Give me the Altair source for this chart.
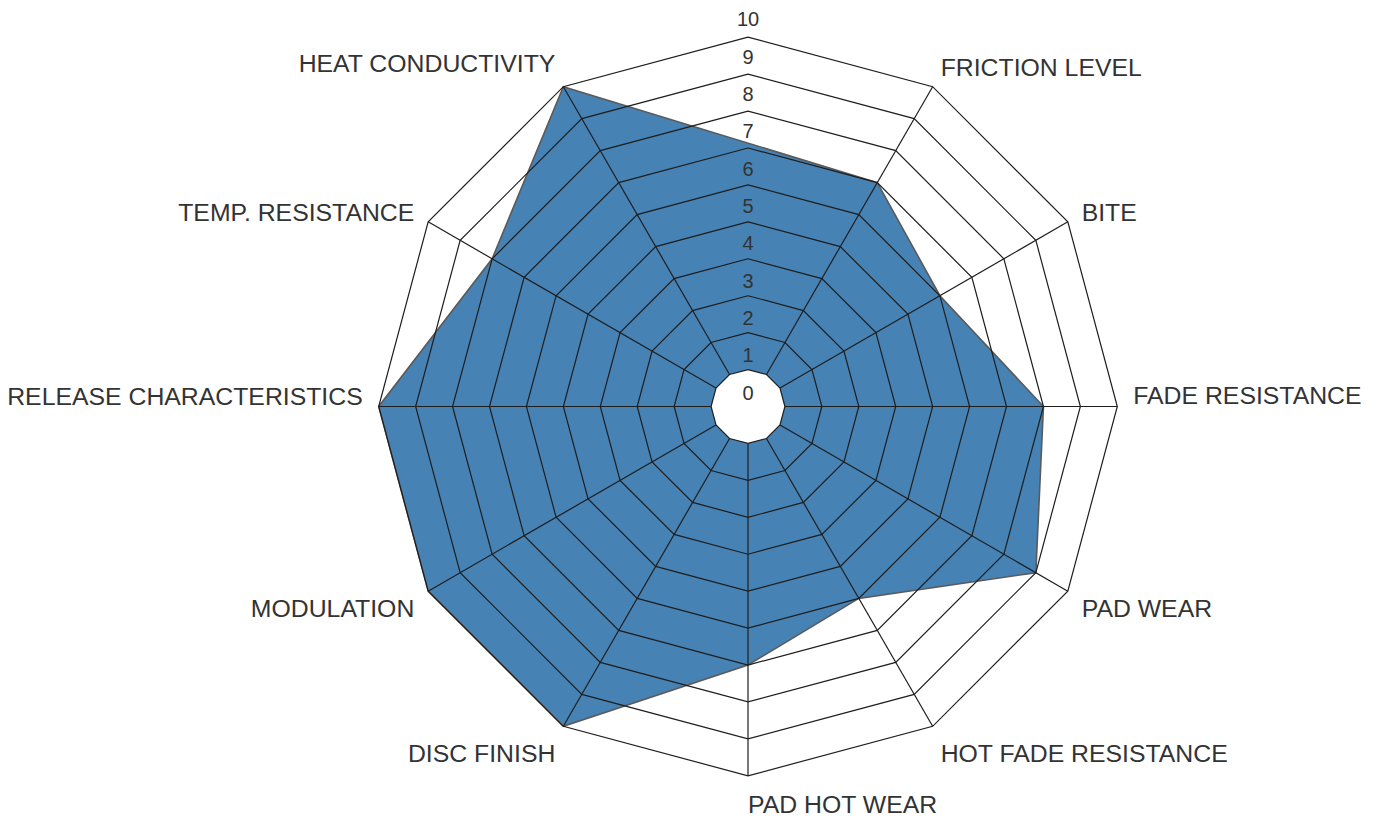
import math
import altair as alt

# ---- data ----
categories = [
    "FRICTION LEVEL", "BITE", "FADE RESISTANCE", "PAD WEAR",
    "HOT FADE RESISTANCE", "PAD HOT WEAR", "DISC FINISH", "MODULATION",
    "RELEASE CHARACTERISTICS", "TEMP. RESISTANCE", "HEAT CONDUCTIVITY",
]
values = [7, 6, 8, 9, 6, 7, 10, 10, 10, 8, 10]
scale_ticks = list(range(0, 11))

# ---- layout constants ----
N_SLOTS = 12            # 12-sided grid, top slot carries the scale labels only
SLOTS = list(range(1, 12))
W, H = 1360, 806
CX, CY = 740, 398.5
UNIT = 36.93
MAXV = 10
LABEL_R = MAXV + 16 / UNIT
FONT = "Liberation Sans"
TXT = "#333333"
GRID = "#1e1e1e"
# small vertical nudges of category labels, in pixels (positive = down)
NUDGE = {
    "FRICTION LEVEL": 3, "FADE RESISTANCE": -3, "HEAT CONDUCTIVITY": -1,
    "RELEASE CHARACTERISTICS": -2, "PAD WEAR": -2, "HOT FADE RESISTANCE": 2,
    "PAD HOT WEAR": 1, "DISC FINISH": 2, "MODULATION": -2,
}


def pt(v, slot):
    a = 2 * math.pi * slot / N_SLOTS
    return [v * math.sin(a), v * math.cos(a)]


def feat(geom):
    return {"type": "Feature", "properties": {}, "geometry": geom}


# series polygon
poly_ring = [pt(v, s) for v, s in zip(values, SLOTS)]
poly_ring.append(poly_ring[0])
series_feats = [feat({"type": "Polygon", "coordinates": [poly_ring]})]

# grid rings
ring_feats = []
for lvl in range(2, MAXV + 1):
    coords = [pt(lvl, k) for k in range(N_SLOTS)] + [pt(lvl, 0)]
    ring_feats.append(feat({"type": "LineString", "coordinates": coords}))

# radial spokes
spoke_feats = [feat({"type": "LineString", "coordinates": [pt(1, s), pt(MAXV, s)]}) for s in SLOTS]

# inner hole (level 1)
hole = [pt(1, k) for k in range(N_SLOTS)] + [pt(1, 0)]
hole_feats = [feat({"type": "Polygon", "coordinates": [hole]})]

# label tables
scale_rows = [{"lon": 0.0, "lat": t + 0.4 * t / UNIT, "text": str(t)} for t in scale_ticks]

cat_rows = []
for name, s in zip(categories, SLOTS):
    deg = 30 * s
    align = "left" if deg <= 180 else "right"
    if deg in (30, 90, 270, 330):
        base = "alphabetic"
    elif deg in (60, 300):
        base = "middle"
    else:
        base = "top"
    x, y = pt(LABEL_R, s)
    y -= NUDGE.get(name, 0) / UNIT
    cat_rows.append({"lon": x, "lat": y, "text": name, "grp": f"{align}|{base}"})


def geo(feats, **kw):
    return alt.Chart(alt.Data(values=feats)).mark_geoshape(**kw)


series = geo(series_feats, fill="#4682b4", stroke="#5a5a5a", strokeWidth=1.6, fillOpacity=1)
rings = geo(ring_feats, filled=False, stroke=GRID, strokeWidth=1.2)
spokes = geo(spoke_feats, filled=False, stroke=GRID, strokeWidth=1.2)
hole_l = geo(hole_feats, fill="white", stroke=GRID, strokeWidth=1.2, fillOpacity=1)

scale_lbl = alt.Chart(alt.Data(values=scale_rows)).mark_text(
    font=FONT, fontSize=20, color=TXT, align="center", baseline="middle", dy=-13
).encode(longitude="lon:Q", latitude="lat:Q", text="text:N")

cat_layers = []
for grp in sorted({r["grp"] for r in cat_rows}):
    al, bl = grp.split("|")
    cat_layers.append(
        alt.Chart(alt.Data(values=cat_rows)).transform_filter(
            alt.datum.grp == grp
        ).mark_text(
            font=FONT, fontSize=24.8, color=TXT, align=al, baseline=bl
        ).encode(longitude="lon:Q", latitude="lat:Q", text="text:N")
    )

chart = alt.layer(series, rings, spokes, hole_l, scale_lbl, *cat_layers).project(
    type="identity", reflectY=True, scale=UNIT, translate=[CX, CY]
).properties(
    width=W, height=H, padding={"left": 0, "top": 0, "right": 0, "bottom": 8},
    autosize=alt.AutoSizeParams(type="none"),
).configure_view(stroke=None)

chart.save("out.html", embed_options={"renderer": "svg", "actions": False})
